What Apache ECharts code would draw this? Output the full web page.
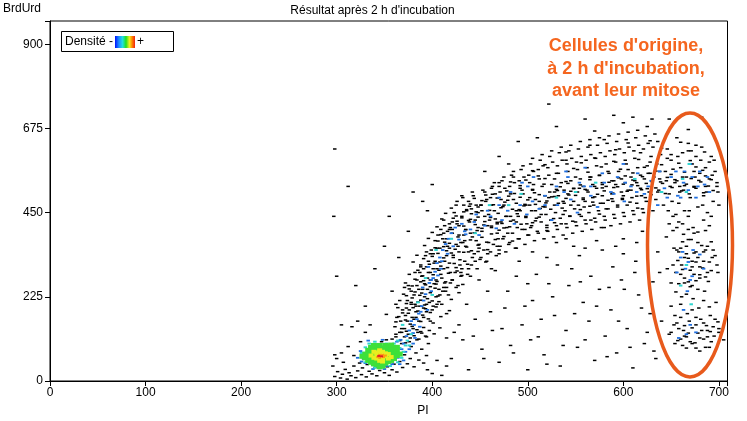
<!DOCTYPE html>
<html><head><meta charset="utf-8">
<script src="https://cdn.jsdelivr.net/npm/echarts@6/dist/echarts.min.js"></script>
<style>html,body{margin:0;padding:0;background:#fff}#c{width:747px;height:421px}</style>
</head><body><div id="c"></div>
<script>
var xTicks = [0,100,200,300,400,500,600,700];
var yTicks = [0,225,450,675,900];

var densityBlack = [
[298,12],[301,25],[304,8],[306,18],[309,31],[311,5],[313,22],[315,14],[318,40],[320,9],[322,27],[324,48],[326,17],[327,35],[329,58],[331,11],[332,44],[334,26],[336,80],[337,19],[339,52],[340,36],[342,14],[343,95],[345,28],[347,105],[348,42],[350,22],[352,110],[353,38],[355,15],[357,98],[358,30],[360,45],[362,118],[363,24],[365,88],[366,52],[368,130],[369,36],[371,70],[372,102],[374,46],[375,125],[377,60],[378,92],[380,140],[381,38],[383,75],[384,110],[386,56],[388,132],[389,85],[391,48],[393,120],[394,68],[396,100],[300,60],[296,40],[305,75],[312,92],[318,68],[325,105],[330,130],[316,145],[322,160],[335,150],[298,70],[307,50],[395,30],[400,20],[410,15],[405,55],[415,40],
[358,112],[362,125],[366,108],[368,140],[371,118],[373,133],[376,105],[379,146],[381,121],[384,137],[386,112],[389,128],[391,143],[394,118],[397,135],[402,126],[408,142],[415,115],[423,130],
[362,158],[365,172],[369,190],[372,163],[375,181],[377,152],[380,196],[383,170],[385,187],[388,159],[390,176],[393,193],[396,166],[398,183],[401,155],[404,198],[409,172],[418,188],[352,178],
[366,215],[370,232],[373,207],[376,246],[379,222],[382,238],[385,211],[387,229],[390,245],[392,203],[395,220],[398,236],[400,214],[403,248],[406,227],[410,205],[414,240],[420,218],[428,236],[358,240],
[372,262],[376,285],[379,254],[382,272],[385,296],[388,265],[390,281],[393,257],[396,290],[398,270],[401,284],[404,259],[407,296],[410,275],[413,262],[417,288],[421,270],[426,294],[432,258],[440,280],
[380,318],[384,336],[388,305],[391,327],[394,345],[397,312],[400,333],[403,320],[406,341],[409,307],[412,329],[415,348],[418,315],[422,336],[425,303],[429,324],[433,344],[437,312],[442,330],[448,346],[456,318],
[392,362],[396,381],[400,397],[403,356],[406,374],[409,391],[412,359],[415,380],[418,368],[421,395],[424,352],[427,385],[430,370],[433,390],[436,358],[440,377],[444,396],[448,363],[452,384],[457,371],[462,393],[468,360],[475,386],[484,374],
[405,412],[410,433],[414,448],[418,405],[421,425],[425,441],[428,415],[431,436],[435,404],[438,429],[441,447],[445,418],[448,438],[452,408],[455,426],[459,445],[462,414],[466,433],[470,403],[473,421],[477,440],[481,412],[485,430],[489,447],[493,419],[498,437],[503,410],[508,428],[514,445],[520,416],[527,434],[535,420],[544,441],
[420,462],[426,480],[431,495],[436,458],[440,473],[444,488],[448,465],[452,482],[456,497],[460,456],[464,471],[468,489],[472,463],[476,478],[480,494],[484,459],[488,475],[492,491],[496,468],[500,484],[504,455],[508,472],[512,498],[516,466],[520,481],[524,459],[528,493],[532,475],[536,462],[540,488],[545,470],[550,496],[555,458],[560,480],[565,467],[570,492],[576,475],[582,460],[588,487],[594,470],[600,495],[607,478],[615,462],[623,490],
[462,515],[470,530],[478,508],[485,545],[492,522],[498,537],[505,512],[511,548],[517,526],[523,505],[528,540],[534,519],[540,533],[545,507],[550,545],[555,524],[560,512],[565,538],[570,520],[575,549],[580,508],[585,531],[590,517],[595,543],[600,526],[605,510],[610,537],[615,522],[620,546],[625,514],[630,533],[636,505],[641,528],[646,544],[651,517],[656,535],[661,508],[666,526],[671,541],[676,515],[681,532],[686,520],[692,538],
[505,562],[518,578],[530,555],[540,590],[548,568],[556,583],[563,558],[570,596],[577,572],[584,560],[590,587],[597,566],[603,580],[610,556],[616,592],[622,571],[628,585],[634,561],[640,578],[646,595],[652,566],[658,582],[664,558],[670,589],[676,572],[683,563],[690,585],
[540,612],[565,630],[580,645],[592,618],[605,636],[618,610],[628,642],[640,622],[650,605],[660,638],[668,615],[676,630],[685,612],
[570,668],[600,690],[625,680],[648,700],[668,672],[682,705],[522,740],
[645,385],[652,402],[658,425],[663,392],[668,440],[673,410],[678,398],[684,430],[690,415],[655,445],[671,378],[648,420],
[650,262],[655,290],[658,345],[661,310],[664,275],[666,360],[668,328],[670,296],[672,255],[674,342],[676,318],[678,370],[680,284],[683,302],[686,350],[689,266],[662,372],[657,322],[653,355],[693,330],[646,300],[699,290],
[660,205],[666,232],[672,190],[678,245],[684,215],[655,238],[690,198],
[648,125],[653,150],[657,108],[660,170],[663,135],[666,118],[669,160],[672,142],[675,102],[678,128],[681,165],[684,112],[687,148],[691,132],[695,120],[699,158],[662,95],[676,88],[705,110],
[420,60],[432,110],[438,30],[445,165],[452,85],[458,240],[463,135],[470,50],[476,195],[482,95],[488,280],[494,150],[500,30],[505,215],[511,118],[517,70],[522,260],[528,175],[534,40],[540,135],[546,300],[552,90],[558,210],[564,160],[570,55],[575,245],[581,120],[587,190],[593,75],[598,270],[604,140],[610,35],[616,230],[622,100],[628,180],[634,60],[638,290],[445,320],[470,340],[520,330],[560,355],[600,340],[425,250],[415,180],[430,290],[540,380],[580,410],[620,400],[600,380],
[298,620],[297,440],[300,280],[312,520],[305,150],[320,255],[340,300],[350,360],[365,330],[375,400],[380,505],[355,440],[390,480],[400,525],[395,455],[330,200],
[433,452],[439,467],[446,452],[451,470],[457,485],[463,499],[469,448],[474,466],[479,483],[486,501],[491,458],[497,472],[502,490],[507,503],[513,461],[519,476],[525,492],[531,509],[537,480],[543,497],[548,514],[553,470],[558,489],[563,505],[568,478],[573,499],[578,516],[584,483],[589,502],[594,519],[599,488],[604,507],[609,524],[614,494],[619,511],[624,528],[629,498],[634,516],[639,532],[644,501],[649,520],[654,538],[659,505],[664,522],[669,500],[674,518],[679,536],[684,503],[689,521],[694,509],
[470,520],[482,532],[494,510],[506,525],[518,541],[530,512],[542,528],[554,515],[566,545],[578,525],[590,535],[602,548],[614,530],[626,555],[638,540],[650,552],[662,545],[674,560],[686,548],[698,530],
[412,395],[419,410],[426,427],[433,414],[440,432],[447,402],[454,417],[461,437],[468,424],[475,409],[482,427],[490,440],[497,405],[505,423],[512,438],[520,402],[528,423],[537,445],[547,427],[556,440],[566,430],[575,446],
[398,340],[405,355],[413,371],[420,342],[427,360],[434,375],[441,348],[449,365],[458,351],[466,378],
[387,290],[394,305],[401,300],[408,318],[416,303],[423,314],[431,282],[438,300],
[378,240],[384,255],[391,268],[398,252],[405,266],[412,250],[419,262],
[373,195],[378,210],[383,200],[388,216],[394,205],[400,190],[407,212],
[361,145],[363,170],[364,196],[366,130],[367,160],[369,182],[362,205],[368,100],
[371,140],[372,175],[373,228],[374,160],[375,255],[376,190],[377,115],[378,205],[379,170],[371,250],[374,215],
[381,165],[381,230],[382,290],[383,185],[384,270],[385,130],[386,245],[387,200],[388,310],[389,280],[382,205],[386,160],[389,235],
[391,170],[391,300],[392,260],[393,335],[394,185],[395,245],[396,320],[397,210],[398,290],[399,350],[392,225],[395,275],[398,160],[391,195],
[401,200],[401,340],[402,260],[403,375],[404,225],[405,300],[406,390],[407,245],[408,355],[409,285],[402,315],[405,205],[408,230],[409,405],[404,270],
[411,240],[411,380],[412,300],[413,415],[414,265],[415,335],[416,400],[417,230],[418,355],[419,290],[412,430],[415,250],[418,420],[413,320],[416,360],
[421,270],[421,405],[422,330],[423,450],[424,290],[425,365],[426,420],[427,255],[428,390],[429,310],[422,435],[425,470],[428,345],[430,280],
[431,300],[431,440],[432,370],[433,470],[434,320],[435,405],[436,455],[437,285],[438,345],[439,425],[432,490],[435,360],[438,480],[440,395],
[441,310],[441,460],[442,385],[443,495],[444,340],[445,430],[446,470],[447,300],[448,410],[449,355],[442,505],[446,375],[448,450],[450,325],
[451,330],[451,470],[452,400],[453,510],[454,350],[455,440],[456,480],[457,320],[458,415],[459,370],[452,455],[455,505],[458,340],[460,430],
[461,345],[461,490],[462,410],[463,520],[464,365],[465,455],[466,500],[467,335],[468,420],[469,380],[462,470],[465,530],[468,395],[470,350],
[471,360],[471,505],[472,425],[473,535],[474,380],[475,470],[476,515],[477,345],[478,440],[479,395],[472,485],[475,545],[478,410],[480,365],
[481,370],[481,520],[482,440],[483,550],[484,395],[485,485],[486,530],[487,355],[488,455],[489,410],[482,500],[485,560],[488,425],[490,380],
[491,380],[491,535],[492,455],[493,565],[494,405],[495,500],[496,545],[497,365],[498,470],[499,420],[492,515],[495,575],[498,440],[500,390],
[501,390],[501,550],[502,470],[503,580],[504,415],[505,510],[506,560],[507,375],[508,485],[509,435],[502,530],[505,595],[508,455],[510,400],
[511,395],[511,565],[512,480],[513,590],[514,425],[515,520],[516,575],[517,380],[518,495],[519,445],[512,540],[515,605],[518,465],[520,410],
[521,400],[521,570],[522,490],[523,600],[524,430],[525,525],[526,585],[527,385],[528,505],[529,450],[522,550],[525,615],[528,470],[530,415],
[531,405],[531,575],[532,495],[533,610],[534,435],[535,530],[536,590],[537,390],[538,510],[539,455],[532,555],[535,625],[538,475],[540,420],
[541,410],[541,580],[542,500],[543,615],[544,440],[545,535],[546,595],[547,395],[548,515],[549,460],[542,560],[545,630],[548,480],[550,425],
[551,415],[551,585],[552,505],[553,620],[554,445],[555,540],[556,600],[557,400],[558,520],[559,465],[552,565],[555,640],[558,485],[560,430],
[561,420],[561,590],[562,510],[563,625],[564,450],[565,545],[566,605],[567,405],[568,525],[569,470],[562,570],[565,645],[568,490],[570,435],
[571,425],[571,595],[572,515],[573,630],[574,455],[575,550],[576,610],[577,410],[578,530],[579,475],[572,575],[575,650],[578,495],[580,440],
[581,430],[581,600],[582,520],[583,635],[584,460],[585,555],[586,615],[587,415],[588,535],[589,480],[582,580],[585,655],[588,500],[590,445],
[591,435],[591,605],[592,525],[593,640],[594,465],[595,560],[596,620],[597,420],[598,540],[599,485],[592,585],[595,660],[598,505],[600,450],
[601,440],[601,610],[602,530],[603,645],[604,470],[605,565],[606,625],[607,425],[608,545],[609,490],[602,590],[605,665],[608,510],[610,455],
[611,445],[611,615],[612,535],[613,650],[614,475],[615,570],[616,630],[617,430],[618,550],[619,495],[612,595],[615,670],[618,515],[620,460],
[621,450],[621,620],[622,540],[623,655],[624,480],[625,575],[626,635],[627,505],[628,555],[629,600],
[631,455],[631,625],[632,545],[633,660],[634,485],[635,580],[636,640],[637,510],[638,560],[639,605],
[642,470],[644,560],[646,620],[648,500],[650,590],[652,440],[654,530],[656,650],[658,475],[660,570],[662,610],[664,455],[666,545],[668,635],[670,490],[672,580],[674,520],[676,600],[678,465],[680,555],[682,625],[684,495],[686,570],[688,450],[690,540],[692,600],[694,480],[696,560],[698,520],[700,470],
[645,535],[651,480],[657,600],[663,510],[669,455],[675,545],[681,590],[687,505],[693,550],[699,505],[647,455],[659,520],[671,615],[683,470],[695,590],
[652,310],[656,350],[660,285],[664,330],[668,265],[672,305],[676,345],[680,275],[684,320],[688,360],[692,295],[696,335],[658,140],[664,120],[670,105],[676,150],[682,135],[688,118],[694,145],[700,130],[661,225],[667,180],[673,220],[679,195],[685,240],[691,175],[650,200],[697,210],[654,100],[686,90],
[455,560],[470,600],[490,640],[510,650],[530,680],[560,700],[590,710],[610,705],[630,700],[480,580],
[428,150],[436,205],[443,120],[449,270],[454,60],[461,185],[466,295],[473,140],[479,240],[485,75],[491,320],[497,200],[503,110],[509,285],[514,165],[520,45],[526,225],[531,310],[537,95],[543,255],[549,180],[554,335],[560,110],[566,280],[572,200],[578,350],[583,65],[589,305],[595,160],[601,245],[607,90],[613,320],[619,195],[625,130],[631,265],[636,345],[614,370],[592,360],[572,375],[548,360],[505,345],[488,355],[462,300],[530,370],[612,290],[585,250],[555,265],[500,260],[640,160],[632,80],
[658,260],[662,298],[666,340],[670,252],[674,285],[678,330],[682,362],[686,278],[690,318],[694,350],[660,355],[664,262],[668,378],[672,320],[676,268],[680,305],[684,345],[688,290],[692,372],[698,310],
[650,130],[656,155],[660,112],[664,148],[668,128],[672,100],[676,170],[680,115],[684,155],[688,135],[692,105],[696,165],[654,175],[690,90],[700,140],[666,88],[680,80],
[662,420],[674,395],[686,402],[656,410],[692,440],[668,405]
];

var densityBlue = [
[328,60],[332,75],[330,48],[335,90],[338,42],[340,98],[356,95],[360,80],[364,62],[366,74],[362,92],[358,45],[352,40],[344,38],[336,58],[368,85],[370,100],[372,78],[367,110],[373,120],
[322,62],[325,80],[333,108],[348,110],[363,105],[370,55],[366,45],[350,32],[338,32],[326,52],[376,85],[380,100],[382,115],
[376,135],[381,150],[384,165],[380,128],[386,180],[389,200],[387,145],[391,215],[393,232],[395,190],[390,250],[397,262],[399,240],[401,275],[403,292],[396,305],[405,315],[408,330],[406,282],[411,350],[414,366],[409,300],[417,380],[420,395],[416,340],[424,410],[428,378],[431,420],[435,392],[440,405],[444,425],[449,390],[455,415],[461,440],[467,408],[473,430],[479,455],[486,420],[492,470],[499,445],[505,480],[512,460],[518,495],[525,430],[531,470],[538,505],[545,485],[552,450],[559,520],[566,495],[573,465],[580,530],[587,505],[594,545],[601,480],[608,520],[615,555],[622,500],[629,535],[636,470],[643,515],[650,545],[657,495],[663,530],[668,510],[672,545],[676,490],[680,560],[685,525],[660,490],[655,560],[670,580],[690,505],[560,570],[540,560],[500,520],[470,470],[600,580],
[660,330],[665,300],[670,270],[673,350],[667,240],[663,190],[670,150],[676,130],[658,115],[668,318],[680,338],[656,290],
[378,160],[388,185],[399,270],[410,320],[422,360],[434,400],[446,445],[458,455],[470,490],[482,505],[494,530],[506,545],[518,470],[530,520],[542,545],[554,530],[566,520],[578,555],[590,500],[602,530],[614,505],[626,520],[638,560],[646,490],[664,560],[678,520],[688,545],
[666,125],[672,280],[684,300],[662,345]
];

var densityCyan = [
[364,108],[369,150],[385,210],[393,275],[400,230],[404,350],[420,380],[445,395],[460,470],[493,500],[530,490],[571,530],[612,540],[640,505],[662,540],[669,580],[666,505],[660,255],[671,205],[666,310],[340,105],[372,95],[352,100],[480,470],[550,505],
[326,75],[330,90],[334,100],[360,100],[366,88],[368,62],[364,50],[356,40],[340,36],[330,50],[370,78],[374,108],[376,95],[378,125]
];

var densityGreen = [
[330,62],[333,55],[333,70],[336,50],[336,64],[336,78],[339,46],[339,58],[339,72],[339,86],[342,44],[342,55],[342,90],[345,46],[345,86],[345,95],[348,45],[348,88],[351,48],[351,60],[351,84],[354,52],[354,66],[354,80],[354,92],[357,55],[357,70],[357,84],[360,60],[360,72],[363,68],[363,80],[348,40],[342,82],[333,82],[330,72],[327,66],[366,72],[360,88],[345,38],[339,95],[351,95],[357,96],[363,90],[336,90]
];

var densityYellow = [
[339,62],[342,60],[342,68],[342,76],[345,54],[345,78],[348,52],[348,58],[348,78],[351,66],[351,74],[354,60],[354,72],[357,64],[336,68],[345,82],[339,78]
];

var densityOrange = [
[343,64],[346,66],[349,64],[345,70],[348,70],[351,68],[345,62]
];

var densityRed = [
[344,67],[347,66]
];

var chart = echarts.init(document.getElementById('c'), null, {renderer:'canvas'});
var FONT = 'Liberation Sans, Arial, sans-serif';
function sc(data, color, size, z){
  return {type:'scatter', data:data, symbol:'rect', symbolSize:size,
    itemStyle:{color:color, opacity:1}, z:z, silent:true, large:false,
    emphasis:{disabled:true}};
}
chart.setOption({
  animation:false,
  backgroundColor:'#fff',
  grid:{left:50, right:19.5, top:21, bottom:40, show:true, borderColor:'#000', borderWidth:1, containLabel:false},
  xAxis:{type:'value', min:0, max:709, interval:100,
    axisLine:{show:true, onZero:false, lineStyle:{color:'#000', width:1}},
    axisTick:{show:true, length:5, lineStyle:{color:'#000'}},
    axisLabel:{color:'#000', fontSize:12, fontFamily:FONT, margin:6,
      formatter:function(v){return xTicks.indexOf(v)>=0 ? String(v) : '';}},
    splitLine:{show:false}},
  yAxis:{type:'value', min:0, max:962, interval:225,
    axisLine:{show:true, onZero:false, lineStyle:{color:'#000', width:1}},
    axisTick:{show:true, length:5, lineStyle:{color:'#000'}},
    axisLabel:{color:'#000', fontSize:12, fontFamily:FONT, margin:7,
      formatter:function(v){return yTicks.indexOf(v)>=0 ? String(v) : '';}},
    splitLine:{show:false}},
  series:[
    sc(densityBlack, '#000000', [3.5,1.5], 2),
    sc(densityBlue, '#1f6fe0', [3.5,1.8], 3),
    sc(densityCyan, '#2fd6d0', [3.5,2], 4),
    sc(densityGreen, '#3ee03a', [6,5], 5),
    sc(densityYellow, '#e8ee20', [5,4], 6),
    sc(densityOrange, '#ff9a10', [3,2], 7),
    sc(densityRed, '#e02020', [3,2], 8)
  ],
  graphic:[
    {type:'text', left:3, top:3, style:{text:'BrdUrd', font:'12px '+FONT, fill:'#000'}},
    {type:'text', x:372.5, y:11, style:{text:"Résultat après 2 h d'incubation", font:'12px '+FONT, fill:'#000', textAlign:'center', textVerticalAlign:'middle'}},
    {type:'text', x:423, y:411, style:{text:'PI', font:'12px '+FONT, fill:'#000', textAlign:'center', textVerticalAlign:'middle'}},
    {type:'rect', shape:{x:61.5, y:31.5, width:112, height:20}, style:{fill:'#fff', stroke:'#000', lineWidth:1}, z:10},
    {type:'text', x:65, y:41.5, style:{text:'Densité -', font:'12px '+FONT, fill:'#000', textVerticalAlign:'middle'}, z:11},
    {type:'rect', shape:{x:115, y:36, width:20, height:12}, style:{fill:new echarts.graphic.LinearGradient(0,0,1,0,[
      {offset:0,color:'#0010ff'},{offset:0.2,color:'#1e90ff'},{offset:0.38,color:'#20e0e0'},{offset:0.55,color:'#20e020'},{offset:0.72,color:'#f0f020'},{offset:0.86,color:'#ff8000'},{offset:1,color:'#f02010'}])}, z:11},
    {type:'text', x:137, y:41.5, style:{text:'+', font:'12px '+FONT, fill:'#000', textVerticalAlign:'middle'}, z:11},
    {type:'text', x:626, y:46.5, style:{text:"Cellules d'origine,", font:'bold 18px '+FONT, fill:'#f5661f', textAlign:'center', textVerticalAlign:'middle'}, z:12},
    {type:'text', x:626, y:69, style:{text:"à 2 h d'incubation,", font:'bold 18px '+FONT, fill:'#f5661f', textAlign:'center', textVerticalAlign:'middle'}, z:12},
    {type:'text', x:626, y:91.5, style:{text:"avant leur mitose", font:'bold 18px '+FONT, fill:'#f5661f', textAlign:'center', textVerticalAlign:'middle'}, z:12},
    {type:'ellipse', shape:{cx:690, cy:245, rx:42.5, ry:132}, style:{fill:null, stroke:'#e85a1c', lineWidth:3.5}, z:12}
  ]
});
</script>
</body></html>
